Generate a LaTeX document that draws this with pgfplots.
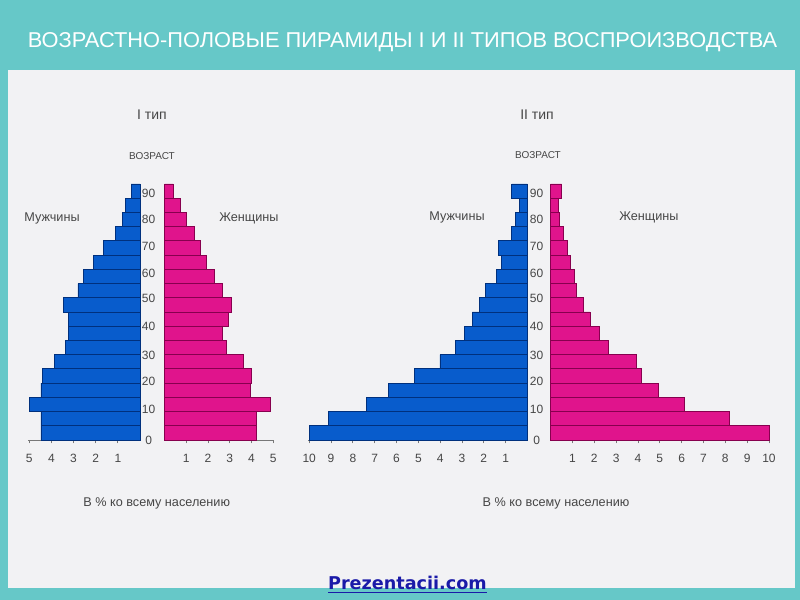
\documentclass[border=0pt]{standalone}
\usepackage{pgfplots}
\pgfplotsset{compat=1.18}
\usepackage{fontspec}
\setmainfont{Liberation Sans}
\newfontfamily\linkfont{DejaVu Sans}
\usepackage{graphicx}

\definecolor{bgteal}{RGB}{102,200,200}
\definecolor{panel}{RGB}{242,242,244}
\definecolor{mfill}{RGB}{8,92,204}
\definecolor{medge}{RGB}{0,48,125}
\definecolor{ffill}{RGB}{224,20,140}
\definecolor{fedge}{RGB}{135,0,78}
\definecolor{txt}{RGB}{70,70,70}
\definecolor{tickc}{RGB}{120,120,120}
\definecolor{linkc}{RGB}{26,26,168}

\pgfplotsset{
  pyr/.style={
    scale only axis, height=192pt,
    ymin=0, ymax=90, xmin=0,
    enlargelimits=false, clip=false,
    xbar, bar width=5,
    axis x line*=bottom, axis y line*=left,
    y axis line style={draw=none},
    axis line style={tickc, line width=0.6pt, -},
    tick align=outside, major tick length=2.5pt,
    every tick/.style={tickc, line width=0.6pt},
    ticklabel style={font=\fontsize{9}{10}\selectfont, text=txt},
    xticklabel style={anchor=center, yshift=-11pt},
    /pgf/number format/assume math mode=true,
    ytick=\empty,
  },
  ages/.style={
    ytick={0,10.9,20.5,29.9,39.8,49.9,58.7,68.0,77.7,86.8},
    yticklabels={0,10,20,30,40,50,60,70,80,90},
    ytick style={draw=none},
    yticklabel style={anchor=center, xshift=-#1},
  },
  men/.style={fill=mfill, draw=medge, line width=0.6pt},
  women/.style={fill=ffill, draw=fedge, line width=0.6pt},
}

\begin{document}
\begin{tikzpicture}
% background
\fill[bgteal] (0pt,0pt) rectangle (600pt,450pt);
\fill[panel] (6pt,9pt) rectangle (596.25pt,397.5pt);
\node[text=white] at (301.9pt,418.5pt)
  {\resizebox{562pt}{11.25pt}{ВОЗРАСТНО-ПОЛОВЫЕ ПИРАМИДЫ I И II ТИПОВ ВОСПРОИЗВОДСТВА}};

% ---- I type, men
\begin{axis}[pyr, at={(105pt,120pt)}, anchor=south east,
  width=83.9pt, x dir=reverse, xmax=5.05, xtick={1,...,5}]
\addplot[men] coordinates {
  (4.47,2.5) (4.47,7.5) (5.00,12.5) (4.47,17.5) (4.41,22.5) (3.87,27.5)
  (3.38,32.5) (3.25,37.5) (3.25,42.5) (3.47,47.5) (2.80,52.5) (2.54,57.5)
  (2.09,62.5) (1.63,67.5) (1.11,72.5) (0.81,77.5) (0.66,82.5) (0.40,87.5)};
\end{axis}
% ---- I type, women
\begin{axis}[pyr, ages=9.4pt, at={(123.4pt,120pt)}, anchor=south west,
  width=81.6pt, xmax=5, xtick={1,...,5}]
\addplot[women] coordinates {
  (4.24,2.5) (4.24,7.5) (4.85,12.5) (3.93,17.5) (4.01,22.5) (3.62,27.5)
  (2.83,32.5) (2.67,37.5) (2.93,42.5) (3.09,47.5) (2.64,52.5) (2.29,57.5)
  (1.94,62.5) (1.63,67.5) (1.37,72.5) (1.02,77.5) (0.71,82.5) (0.40,87.5)};
\end{axis}
% ---- II type, men
\begin{axis}[pyr, at={(395.6pt,120pt)}, anchor=south east,
  width=164.5pt, x dir=reverse, xmax=10.05, xtick={1,...,10}]
\addplot[men] coordinates {
  (10.00,2.5) (9.13,7.5) (7.37,12.5) (6.35,17.5) (5.19,22.5) (4.01,27.5)
  (3.32,32.5) (2.90,37.5) (2.53,42.5) (2.18,47.5) (1.93,52.5) (1.44,57.5)
  (1.18,62.5) (1.34,67.5) (0.72,72.5) (0.57,77.5) (0.38,82.5) (0.72,87.5)};
\end{axis}
% ---- II type, women
\begin{axis}[pyr, ages=8pt, at={(413pt,120pt)}, anchor=south west,
  width=163.7pt, xmax=10, xtick={1,...,10}]
\addplot[women] coordinates {
  (10.00,2.5) (8.18,7.5) (6.12,12.5) (4.95,17.5) (4.17,22.5) (3.94,27.5)
  (2.64,32.5) (2.23,37.5) (1.80,42.5) (1.49,47.5) (1.20,52.5) (1.11,57.5)
  (0.92,62.5) (0.76,67.5) (0.58,72.5) (0.38,77.5) (0.35,82.5) (0.50,87.5)};
\end{axis}

% labels
\begin{scope}[every node/.style={text=txt, inner sep=0pt}]
\node[font=\fontsize{10.5}{12}\selectfont] at (114pt,363.75pt) {I тип};
\node[font=\fontsize{7.5}{9}\selectfont] at (114pt,333pt) {ВОЗРАСТ};
\node[font=\fontsize{9.5}{11}\selectfont] at (39pt,286.5pt) {Мужчины};
\node[font=\fontsize{9.5}{11}\selectfont] at (186.75pt,286.5pt) {Женщины};
\node[font=\fontsize{9.5}{11}\selectfont] at (117.5pt,72.75pt) {В \% ко всему населению};
\node[font=\fontsize{10.5}{12}\selectfont] at (402.75pt,363.75pt) {II тип};
\node[font=\fontsize{7.5}{9}\selectfont] at (403.5pt,333.75pt) {ВОЗРАСТ};
\node[font=\fontsize{9.5}{11}\selectfont] at (342.75pt,287.25pt) {Мужчины};
\node[font=\fontsize{9.5}{11}\selectfont] at (486.75pt,287.25pt) {Женщины};
\node[font=\fontsize{9.5}{11}\selectfont] at (417pt,72.75pt) {В \% ко всему населению};
\end{scope}
\node[text=linkc, inner sep=0pt] at (305.6pt,11.25pt)
  {\resizebox{119pt}{!}{\linkfont\bfseries\underline{Prezentacii.com}}};
\end{tikzpicture}
\end{document}
